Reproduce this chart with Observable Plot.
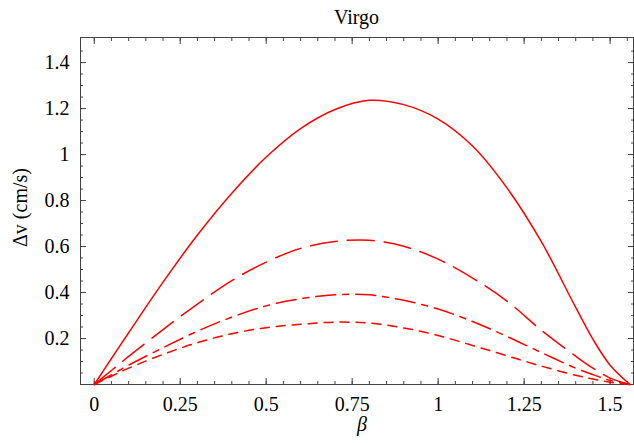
<!DOCTYPE html>
<html><head><meta charset="utf-8">
<script src="https://cdn.jsdelivr.net/npm/d3@7"></script>
<script src="https://cdn.jsdelivr.net/npm/@observablehq/plot@0.6"></script>
<style>
body{margin:0;background:#fff;}
#title{width:634px;box-sizing:border-box;padding:6px 1px 0 80px;height:30px;font-family:"Liberation Serif",serif;font-size:20px;line-height:22px;text-align:center;color:#000;}
</style></head><body>
<div id="title">Virgo</div>
<div id="chart"></div>
<script>
const beta     = [0, 0.05, 0.1, 0.2, 0.3, 0.4, 0.5, 0.6, 0.7, 0.8, 0.9, 1.0, 1.1, 1.2, 1.3, 1.4, 1.45, 1.5, 1.558];
const vSolid   = [0, 0.113, 0.225, 0.445, 0.650, 0.832, 0.989, 1.113, 1.196, 1.236, 1.217, 1.154, 1.037, 0.855, 0.621, 0.335, 0.197, 0.084, 0];
const vLong    = [0, 0.061, 0.122, 0.239, 0.350, 0.452, 0.532, 0.592, 0.622, 0.627, 0.601, 0.545, 0.463, 0.363, 0.236, 0.123, 0.071, 0.028, 0];
const vDashDot = [0, 0.042, 0.084, 0.160, 0.232, 0.293, 0.342, 0.373, 0.390, 0.390, 0.366, 0.328, 0.274, 0.209, 0.139, 0.071, 0.043, 0.018, 0];
const vShort   = [0, 0.036, 0.071, 0.131, 0.182, 0.221, 0.247, 0.262, 0.271, 0.267, 0.246, 0.213, 0.170, 0.125, 0.080, 0.040, 0.024, 0.010, 0];

const seriesNames = ["solid", "long", "dashdot", "short"];
const seriesValues = [vSolid, vLong, vDashDot, vShort];
const seriesDash = {solid: null, long: "27,10", dashdot: "20,7,6,7", short: "9,7"};

const xTicks = [0, 0.25, 0.5, 0.75, 1, 1.25, 1.5];
const yTicks = [0.2, 0.4, 0.6, 0.8, 1, 1.2, 1.4];
const xMinor = d3.range(0, 32).map(i => +(i * 0.05).toFixed(2));
const yMinor = d3.range(1, 30).map(i => +(i * 0.05).toFixed(2));

const rows = seriesNames.map((s, k) => beta.map((b, i) => ({series: s, beta: b, v: seriesValues[k][i]})));

const axisColor = "#444";
const tickOpts = (size) => ({tickSize: size, stroke: axisColor, tickFormat: () => "", label: null});
const marks = [
  Plot.frame({stroke: axisColor}),
  // minor ticks
  Plot.axisX(xMinor, {anchor: "bottom", ...tickOpts(-3)}),
  Plot.axisX(xMinor, {anchor: "top", ...tickOpts(-3)}),
  Plot.axisY(yMinor, {anchor: "left", ...tickOpts(-3)}),
  Plot.axisY(yMinor, {anchor: "right", ...tickOpts(-3)}),
  // major ticks
  Plot.axisX(xTicks, {anchor: "bottom", ...tickOpts(-6)}),
  Plot.axisX(xTicks, {anchor: "top", ...tickOpts(-6)}),
  Plot.axisY(yTicks, {anchor: "left", ...tickOpts(-6)}),
  Plot.axisY(yTicks, {anchor: "right", ...tickOpts(-6)}),
  // labels
  Plot.axisX(xTicks, {anchor: "bottom", tickSize: 0, tickPadding: 12, tickFormat: d => String(d), fill: "#000", label: null}),
  Plot.axisY(yTicks, {anchor: "left", tickSize: 0, tickPadding: 11, tickFormat: d => String(d), fill: "#000", label: null}),
  ...rows.map(r => Plot.line(r, {x: "beta", y: "v", stroke: "#ff0000", strokeWidth: 1.5,
      strokeDasharray: seriesDash[r[0].series], curve: "catmull-rom"})),
  Plot.text(["Δv (cm/s)"], {frameAnchor: "left", rotate: -90, dx: -60, dy: 36, text: d => d, fill: "#000"}),
  Plot.text(["β"], {frameAnchor: "bottom", dy: 46, dx: 5, text: d => d, fontStyle: "italic", fill: "#000"})
];

const chart = Plot.plot({
  width: 634,
  height: 413,
  marginTop: 7,
  marginBottom: 59,
  marginLeft: 80,
  marginRight: 1,
  style: {fontFamily: "'Liberation Serif', serif", fontSize: "20px", background: "#fff", color: "#000"},
  x: {domain: [-0.04, 1.568], axis: null},
  y: {domain: [0, 1.509], axis: null},
  marks
});
document.getElementById("chart").appendChild(chart);
</script>
</body></html>
